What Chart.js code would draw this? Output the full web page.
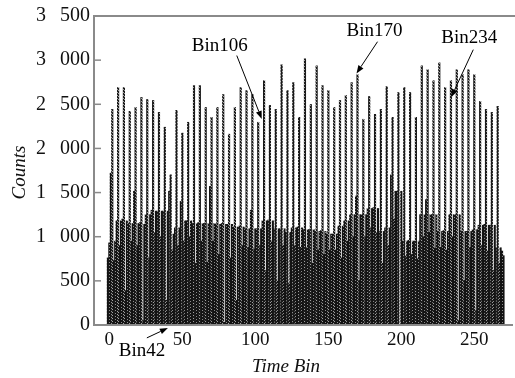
<!DOCTYPE html>
<html>
<head>
<meta charset="utf-8">
<script src="https://cdn.jsdelivr.net/npm/chart.js@4.4.1/dist/chart.umd.min.js"></script>
<style>
  body { margin: 0; background: #fff; }
  #wrap { width: 515px; height: 378px; }
</style>
</head>
<body>
<div id="wrap"><canvas id="binChart"></canvas></div>
<script>
// x axis runs over these bins (category labels)
const binFirst = -10;
const binLast = 276;
const xTickLabels = [0, 50, 100, 150, 200, 250];
const yTickValues = [0, 500, 1000, 1500, 2000, 2500, 3000, 3500];

// every period of 4 bins: shoulder, peak, dip, base
const leadCounts = [760, 930];   // bins -1, 0
const shoulderCounts = [1720, 1180, 1200, 1150, 1515, 1160, 1250, 1300, 1290, 1290, 1515, 1100, 1400, 1180, 1150, 1160, 1150,
  1570, 1140, 1150, 1140, 1110, 1120, 1090, 1300, 1090, 1180, 1190, 1090, 1090, 1050, 1100, 1110, 1080, 1080, 1060, 1070,
  1030, 1030, 1120, 1180, 1250, 1460, 1250, 1320, 1330, 1060, 1100, 1700, 1515, 950, 960, 950, 1250, 1420, 1250, 1060,
  1070, 1250, 1250, 1060, 1060, 1080, 1130, 1140, 1130, 875];
const peakCounts = [2446, 2693, 2693, 2424, 2468, 2581, 2558, 2547, 2412, 2244, 1705, 2435, 2177, 2300, 2715, 2715, 2468,
  2356, 2468, 2614, 2165, 2468, 2693, 2659, 2614, 2300, 2771, 2491, 2446, 2951, 2659, 2749, 2356, 3018, 2502, 2940, 2715,
  2659, 2468, 2547, 2603, 2749, 2839, 2334, 2592, 2390, 2446, 2704, 2356, 2637, 2693, 2637, 2356, 2940, 2895, 2771, 2973,
  2693, 2771, 2895, 2839, 2895, 2839, 2536, 2446, 2412, 2480];
const dipCounts = [730, 900, 390, 950, 900, 50, 760, 1050, 1000, 280, 850, 900, 950, 1000, 700, 950, 710, 950, 800, 30,
  760, 280, 900, 880, 860, 900, 617, 950, 500, 900, 470, 900, 880, 875, 700, 850, 800, 850, 850, 760, 950, 1000, 505, 1000,
  1100, 1050, 700, 900, 1200, 0, 780, 800, 750, 1000, 1050, 870, 880, 850, 1000, 50, 505, 880, 168, 900, 840, 617, 700];
const baseCounts = [950, 1180, 1180, 1150, 1150, 1140, 1250, 1290, 1290, 1290, 1030, 1100, 1180, 1180, 1150, 1150, 1150,
  1150, 1140, 1140, 1140, 1110, 1110, 1090, 1090, 1090, 1180, 1180, 1090, 1090, 1050, 1100, 1100, 1080, 1080, 1060, 1060,
  1030, 1030, 1120, 1180, 1250, 1250, 1250, 1320, 1320, 1060, 1100, 1515, 1515, 950, 950, 950, 1250, 1250, 1250, 1060,
  1060, 1250, 1250, 1060, 1060, 1080, 1130, 1130, 1130, 875];
const tailCounts = [840, 785];   // bins 269, 270

// arrows: label, text position, arrow tail and tip (bin, counts)
const notes = [
  { text: "Bin106", at: [75.7, 3164], from: [87.3, 3052], to: [104.4, 2334] },
  { text: "Bin170", at: [181.6, 3333], from: [183.7, 3209], to: [169.3, 2850] },
  { text: "Bin234", at: [246.6, 3254], from: [249.3, 3119], to: [234.2, 2581] },
  { text: "Bin42", at: [22.4, -300], from: [25.7, -146], to: [40.1, -34] }
];

const bins = [];
for (let b = binFirst; b <= binLast; b++) bins.push(b);
const baseSeries = bins.map(() => null);
const peakSeries = bins.map(() => null);
const put = (arr, b, v) => { arr[b - binFirst] = v; };

put(baseSeries, -1, leadCounts[0]);
put(baseSeries, 0, leadCounts[1]);
peakCounts.forEach((p, k) => {
  put(baseSeries, 4 * k + 1, shoulderCounts[k]);
  put(peakSeries, 4 * k + 2, p);
  put(baseSeries, 4 * k + 3, dipCounts[k]);
  put(baseSeries, 4 * k + 4, baseCounts[k]);
});
put(baseSeries, 269, tailCounts[0]);
put(baseSeries, 270, tailCounts[1]);

const SERIF = "'Liberation Serif', 'DejaVu Serif', serif";
const canvas = document.getElementById("binChart");
const ctx0 = canvas.getContext("2d");

// dotted fills like the printed halftone
function halftone(dark, light, dots) {
  const tile = document.createElement("canvas");
  tile.width = 3; tile.height = 3;
  const tg = tile.getContext("2d");
  tg.fillStyle = dark;
  tg.fillRect(0, 0, 3, 3);
  tg.fillStyle = light;
  dots.forEach(d => tg.fillRect(d[0], d[1], 1, 1));
  return ctx0.createPattern(tile, "repeat");
}
const massFill = halftone("#131313", "#8a8a8a", [[1, 1]]);
const spikeFill = halftone("#1a1a1a", "#a0a0a0", [[1, 0], [0, 2]]);

const frame = {
  id: "frame",
  afterDraw(chart) {
    const { ctx, chartArea: a, scales: { x, y } } = chart;
    const px = b => x.getPixelForValue(b - binFirst);
    ctx.save();

    // axes and top line
    ctx.strokeStyle = "#8a8a8a";
    ctx.lineWidth = 2;
    ctx.beginPath();
    ctx.moveTo(chart.width, a.top);
    ctx.lineTo(a.left, a.top);
    ctx.lineTo(a.left, a.bottom);
    ctx.lineTo(a.right, a.bottom);
    ctx.stroke();

    // inward ticks on y
    ctx.lineWidth = 1.5;
    yTickValues.forEach(v => {
      const py = y.getPixelForValue(v);
      ctx.beginPath();
      ctx.moveTo(a.left, py);
      ctx.lineTo(a.left + 7, py);
      ctx.stroke();
    });

    // axis titles
    ctx.fillStyle = "#111";
    ctx.font = "italic 19px " + SERIF;
    ctx.textAlign = "center";
    ctx.textBaseline = "middle";
    ctx.fillText("Time Bin", 286, 367);
    ctx.save();
    ctx.translate(20, (a.top + a.bottom) / 2 + 2);
    ctx.rotate(-Math.PI / 2);
    ctx.fillText("Counts", 0, 0);
    ctx.restore();

    // annotations
    ctx.font = "19px " + SERIF;
    ctx.strokeStyle = "#000";
    ctx.fillStyle = "#000";
    ctx.lineWidth = 1;
    notes.forEach(n => {
      ctx.fillText(n.text, px(n.at[0]), y.getPixelForValue(n.at[1]));
      const x1 = px(n.from[0]), y1 = y.getPixelForValue(n.from[1]);
      const x2 = px(n.to[0]), y2 = y.getPixelForValue(n.to[1]);
      const ang = Math.atan2(y2 - y1, x2 - x1);
      const L = 8, W = 3;
      const bx = x2 - L * Math.cos(ang), by = y2 - L * Math.sin(ang);
      ctx.beginPath();
      ctx.moveTo(x1, y1);
      ctx.lineTo(bx, by);
      ctx.stroke();
      ctx.beginPath();
      ctx.moveTo(x2, y2);
      ctx.lineTo(bx + W * Math.sin(ang), by - W * Math.cos(ang));
      ctx.lineTo(bx - W * Math.sin(ang), by + W * Math.cos(ang));
      ctx.closePath();
      ctx.fill();
    });
    ctx.restore();
  }
};

new Chart(canvas, {
  type: "bar",
  data: {
    labels: bins,
    datasets: [
      {
        data: baseSeries,
        backgroundColor: massFill,
        borderWidth: 0,
        grouped: false,
        barPercentage: 1,
        categoryPercentage: 1,
        order: 2
      },
      {
        data: peakSeries,
        backgroundColor: spikeFill,
        borderWidth: 0,
        grouped: false,
        barPercentage: 1.5,
        categoryPercentage: 1,
        order: 1
      }
    ]
  },
  options: {
    responsive: true,
    maintainAspectRatio: false,
    animation: false,
    layout: { padding: { top: 12, right: 2, left: 0, bottom: 0 } },
    plugins: { legend: { display: false }, tooltip: { enabled: false } },
    scales: {
      x: {
        type: "category",
        grid: { display: false, drawTicks: false },
        border: { display: false },
        afterFit: s => { s.height = 53; },
        ticks: {
          autoSkip: false,
          maxRotation: 0,
          padding: 4,
          color: "#111",
          font: { family: SERIF, size: 19 },
          callback: function (v) {
            const b = Number(this.getLabelForValue(v));
            return xTickLabels.includes(b) ? String(b) : null;
          }
        }
      },
      y: {
        min: 0,
        max: 3500,
        grid: { display: false, drawTicks: false },
        border: { display: false },
        afterFit: s => { s.width = 94; },
        ticks: {
          stepSize: 500,
          padding: 4,
          color: "#111",
          font: { family: SERIF, size: 20 },
          callback: v => v >= 1000 ? Math.floor(v / 1000) + "\u2002\u2009" + String(v % 1000).padStart(3, "0") : String(v)
        }
      }
    }
  },
  plugins: [frame]
});
</script>
</body>
</html>
